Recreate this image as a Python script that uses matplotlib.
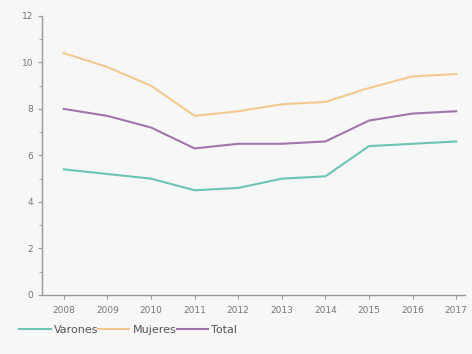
import numpy as np
import matplotlib.pyplot as plt
from matplotlib.ticker import MultipleLocator

years = [2008, 2009, 2010, 2011, 2012, 2013, 2014, 2015, 2016, 2017]
varones = [5.4, 5.2, 5.0, 4.5, 4.6, 5.0, 5.1, 6.4, 6.5, 6.6]
mujeres = [10.4, 9.8, 9.0, 7.7, 7.9, 8.2, 8.3, 8.9, 9.4, 9.5]
total = [8.0, 7.7, 7.2, 6.3, 6.5, 6.5, 6.6, 7.5, 7.8, 7.9]

bg = '#f7f7f7'
fig = plt.figure(figsize=(4.72, 3.54), dpi=100, facecolor=bg)
ax = fig.add_axes([0.089, 0.167, 0.896, 0.788], facecolor=bg)

x = np.arange(len(years))
ax.plot(x, varones, color='#6cc4b5', lw=1.5, label='Varones')
ax.plot(x, mujeres, color='#f2c890', lw=1.5, label='Mujeres')
ax.plot(x, total, color='#a274ae', lw=1.5, label='Total')

ax.set_xlim(-0.5, 9.2)
ax.set_ylim(0, 12)
ax.set_xticks(x)
ax.set_xticklabels([str(y) for y in years])
ax.yaxis.set_major_locator(MultipleLocator(2))
ax.yaxis.set_minor_locator(MultipleLocator(1))

for s in ['top', 'right']:
    ax.spines[s].set_visible(False)
for s in ['left', 'bottom']:
    ax.spines[s].set_color('#999999')
    ax.spines[s].set_linewidth(1)
ax.tick_params(colors='#999999', labelcolor='#777777', labelsize=6.5, length=3)
ax.tick_params(which='minor', colors='#999999', length=2)
ax.tick_params(axis='x', pad=5)

fig.legend(loc='lower left', bbox_to_anchor=(0.02, 0.025), ncol=3, frameon=False,
           fontsize=8, handlelength=2.8, handletextpad=0.3, columnspacing=0.0,
           labelcolor='#555555')

plt.savefig('out.png', dpi=100, facecolor=bg)
